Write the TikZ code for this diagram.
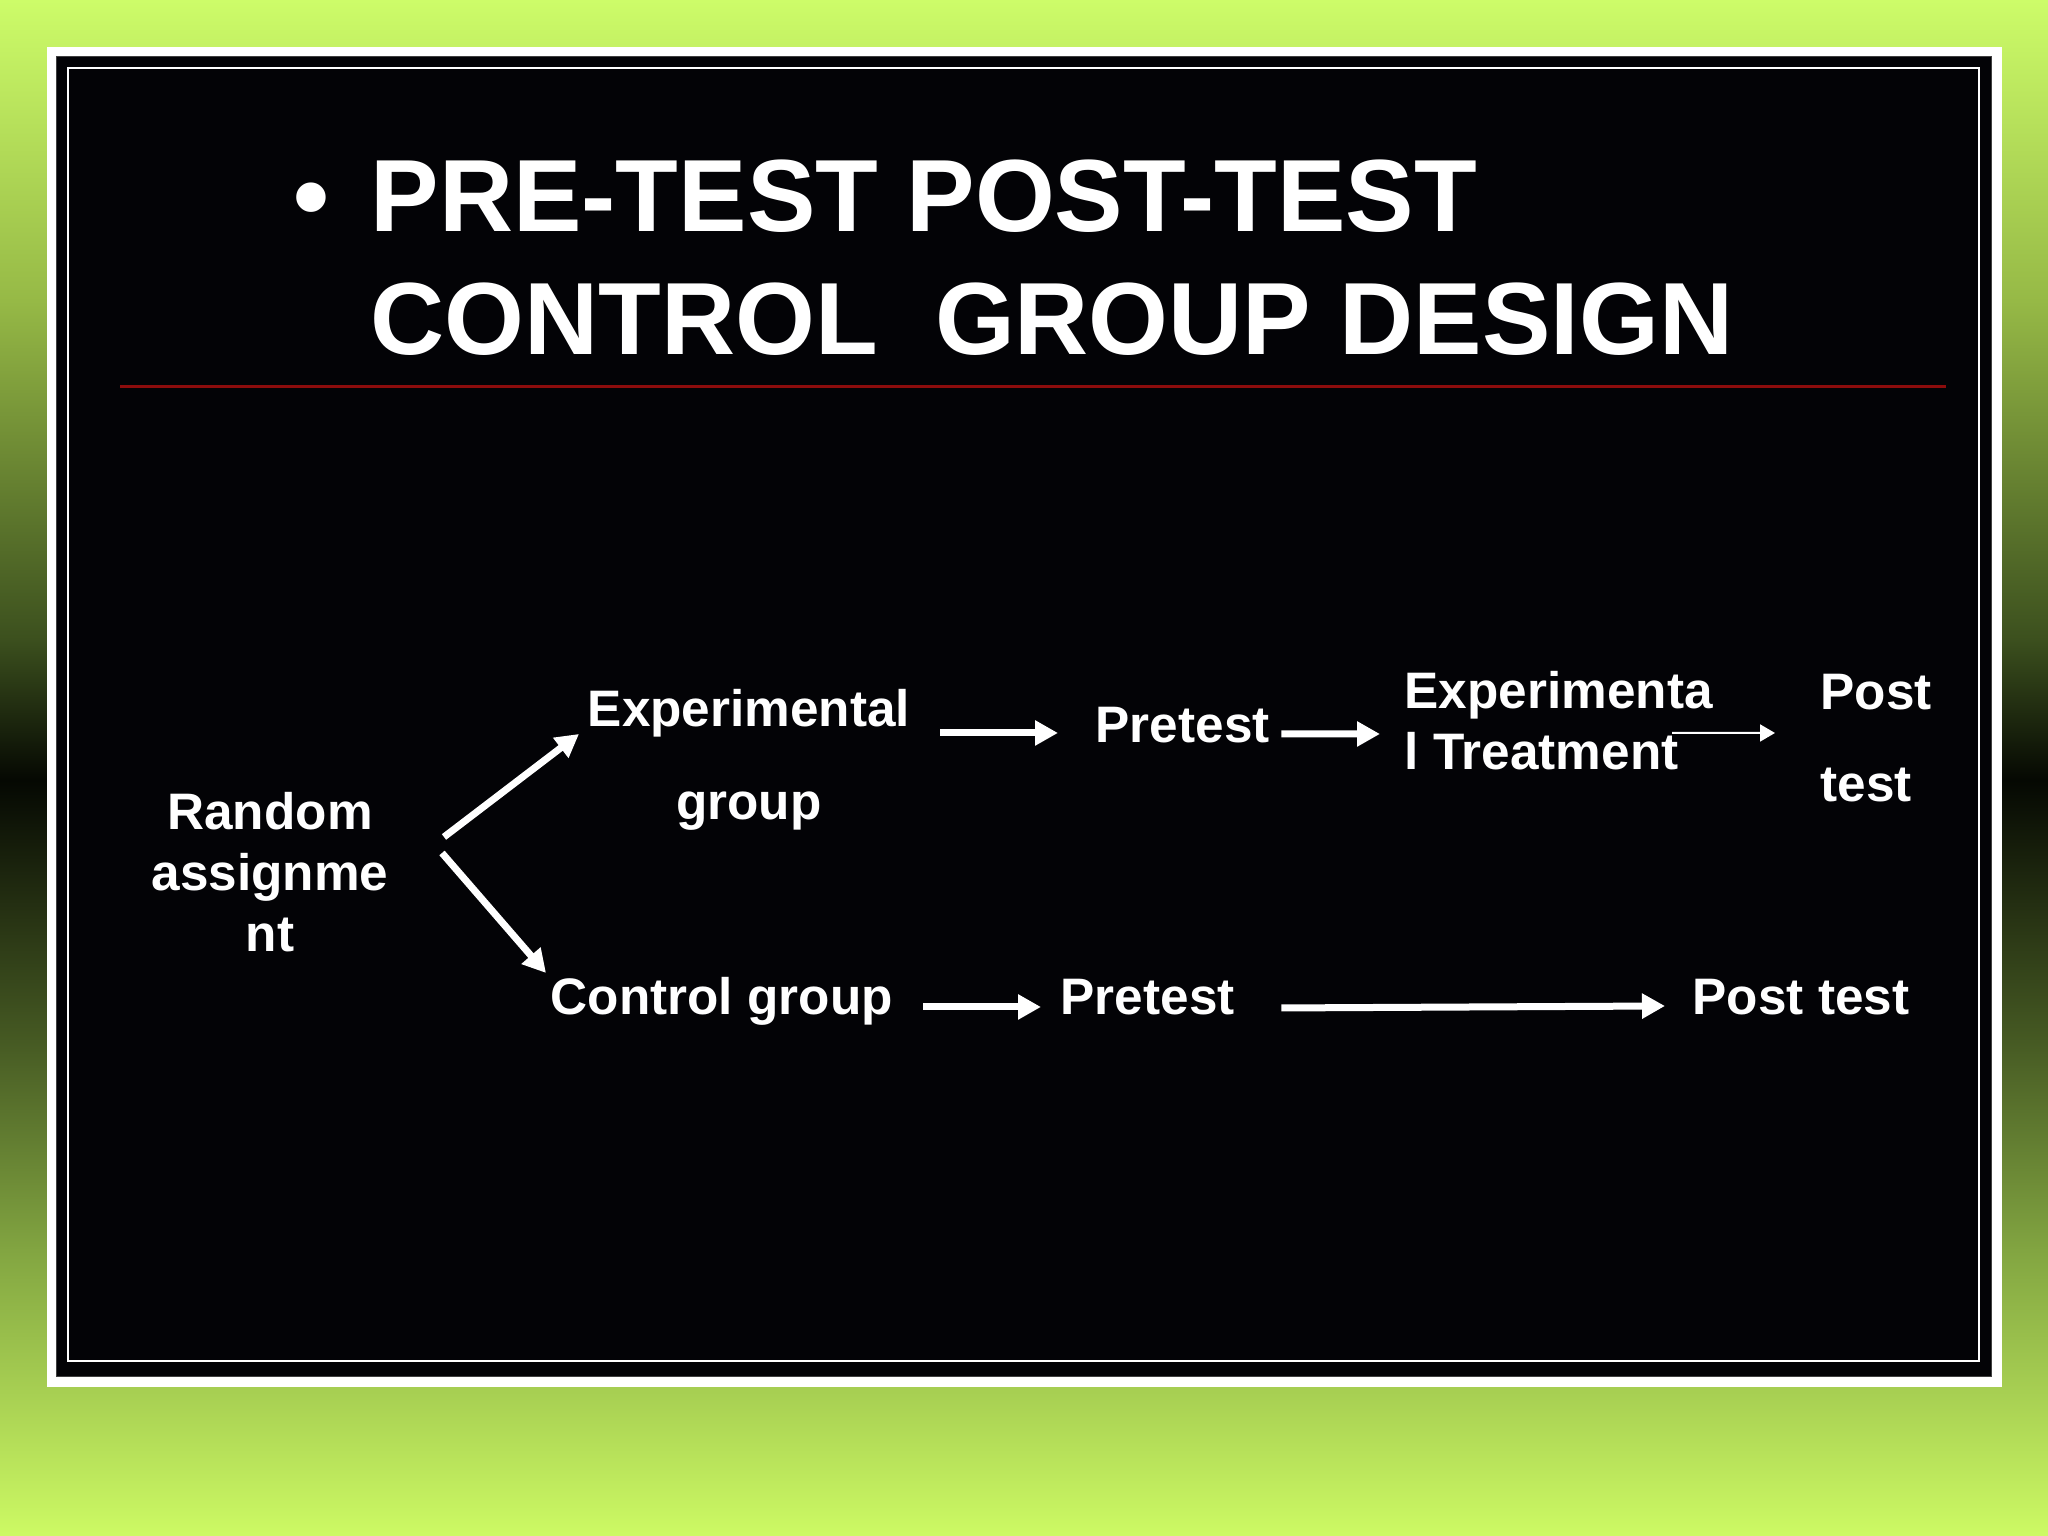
\documentclass[tikz,border=0pt]{standalone}
\usepackage{fontspec}
\setmainfont{Liberation Sans}
\usetikzlibrary{arrows.meta}

\definecolor{limetop}{RGB}{205,252,105}
\definecolor{olivetop}{RGB}{150,185,70}
\definecolor{darktop}{RGB}{60,80,30}
\definecolor{nearblack}{RGB}{5,8,2}
\definecolor{darkbot}{RGB}{70,90,35}
\definecolor{olivebot}{RGB}{130,165,65}
\definecolor{limebot}{RGB}{205,250,100}
\definecolor{slideblack}{RGB}{3,3,6}
\definecolor{slidered}{RGB}{140,12,12}

\pgfdeclareverticalshading{slidebg}{100bp}{color(0bp)=(limebot); color(25bp)=(limebot); color(34.3bp)=(olivebot); color(41.1bp)=(darkbot); color(49.6bp)=(nearblack); color(54.2bp)=(darktop); color(65.2bp)=(olivetop); color(75bp)=(limetop); color(100bp)=(limetop)}

\tikzset{
  txt/.style={text=white, inner sep=0pt, font=\bfseries\fontsize{14.6}{17.4}\selectfont},
  titletxt/.style={text=white, inner sep=0pt, font=\bfseries\fontsize{29.2}{35}\selectfont},
  fat/.style={draw=white, line width=0.07cm, -{Triangle[length=0.23cm,width=0.24cm]}},
  slimarrow/.style={draw=white, line width=0.02cm, -{Triangle[length=0.15cm,width=0.17cm]}}
}

\begin{document}
\begin{tikzpicture}
		%\draw [help lines] (0,0) grid (20,15);
		\useasboundingbox (0,0) rectangle (20.48,15.36);
		% Sfondo e cornice
		\shade [shading=slidebg] (0,0) rectangle (20.48,15.36);
		\fill [white] (0.467,1.493) rectangle (20.017,14.893);
		\fill [slideblack] (0.567,1.59) rectangle (19.917,14.793);
		\draw [gray!50!black, line width=0.01cm] (0.567,1.59) rectangle (19.917,14.793);
		\draw [white, line width=0.02cm] (0.68,1.75) rectangle (19.79,14.68);
		% Titolo (base = ultima riga)
		\node [titletxt, anchor=base] (bul) at (3.11,13.04) {\textbullet};
		\node [titletxt, align=left, anchor=base west] (title) at (3.70,11.81) {PRE-TEST POST-TEST\\CONTROL\ \ GROUP DESIGN};
		\draw [slidered, line width=0.03cm] (1.20,11.49) -- (19.46,11.49);
		% Gruppi
		\node [txt, align=center, anchor=base] (rand) at (2.70,5.84) {Random\\assignme\\nt};
		\node [txt, align=center, anchor=base] (expgrp) at (7.49,7.16) {Experimental\\[0.32cm]group};
		\node [txt, anchor=base west] (ctrl) at (5.50,5.21) {Control group};
		% Riga sperimentale
		\node [txt, anchor=base west] (pre1) at (10.95,7.93) {Pretest};
		\node [txt, align=left, anchor=base west] (treat) at (14.04,7.66) {Experimenta\\l Treatment};
		\node [txt, align=left, anchor=base west] (post1) at (18.20,7.34) {Post\\[0.31cm]test};
		% Riga di controllo
		\node [txt, anchor=base west] (pre2) at (10.60,5.21) {Pretest};
		\node [txt, anchor=base west] (post2) at (16.92,5.21) {Post test};
		% Frecce
		\draw [fat] ([shift={(1.74,1.15)}]rand.base) -- ([shift={(-1.70,0.86)}]expgrp.base);
		\draw [fat] ([shift={(1.72,0.99)}]rand.base) -- ([shift={(-0.04,0.42)}]ctrl.base west);
		\draw [fat] ([shift={(1.91,0.87)}]expgrp.base) -- ([shift={(-0.37,0.10)}]pre1.base west);
		\draw [fat] ([shift={(0.11,0.09)}]pre1.base east) -- ([shift={(-0.24,0.36)}]treat.base west);
		\draw [slimarrow] ([shift={(2.68,0.37)}]treat.base west) -- ([shift={(-0.45,0.69)}]post1.base west);
		\draw [fat] ([shift={(0.30,0.08)}]ctrl.base east) -- ([shift={(-0.19,0.08)}]pre2.base west);
		\draw [fat] ([shift={(0.46,0.07)}]pre2.base east) -- ([shift={(-0.27,0.09)}]post2.base west);
	\end{tikzpicture}
\end{document}
